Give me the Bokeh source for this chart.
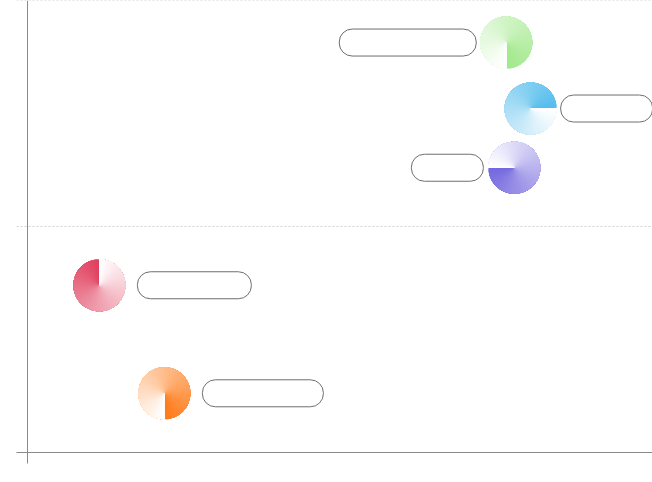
import numpy as np
from bokeh.plotting import figure
from bokeh.models import Range1d, FixedTicker, Span, ColumnDataSource, CustomJSTickFormatter
from bokeh.embed import file_html
from bokeh.resources import INLINE

# ---- data ----
names = ["green", "blue", "purple", "red", "orange"]
x_vals = [76.6, 80.5, 77.9, 11.5, 21.9]
y_vals = [90.7, 76.1, 63.0, 37.0, 13.1]
start_deg = [-90, 0, 180, 90, -90]
base_colors = ["#a2e98c", "#55bdec", "#7468de", "#e0405e", "#ff7a18"]

# ---- styles / layout ----
pie_radius_px = 26
pill_h_px = 27
pill_w_px = [137, 92, 72, 114, 121]
pill_off_px = [-98.5, 76, -67, 95, 98.5]

x_per_px = 100 / 625.0
y_per_px = 100 / 452.0
x_start = -11 * x_per_px

p = figure(width=652, height=470, output_backend="svg", toolbar_location=None,
           x_range=Range1d(x_start, 100), y_range=Range1d(0, 100),
           min_border_left=16, min_border_right=0, min_border_top=0,
           min_border_bottom=18)
p.outline_line_color = None
p.background_fill_color = "white"

# axes
p.yaxis.visible = False
p.xaxis.ticker = FixedTicker(ticks=[0])
p.xaxis.formatter = CustomJSTickFormatter(code="return ''")
p.xaxis.major_label_standoff = 0
p.xaxis.major_tick_out = 11
p.xaxis.major_tick_in = 0
p.xaxis.minor_tick_line_color = None
p.xaxis.axis_line_color = "#8a8a8a"
p.xaxis.major_tick_line_color = "#8a8a8a"
p.xgrid.visible = False
p.ygrid.ticker = FixedTicker(ticks=[50, 99.9])
p.ygrid.grid_line_color = "#d0d0d0"
p.ygrid.grid_line_dash = "2 2"
p.ygrid.grid_line_width = 1

p.add_layout(Span(location=0, dimension="height", line_color="#8a8a8a", line_width=1))


def blend(hexc, t):
    r, g, b = int(hexc[1:3], 16), int(hexc[3:5], 16), int(hexc[5:7], 16)
    r = round(r + (255 - r) * t)
    g = round(g + (255 - g) * t)
    b = round(b + (255 - b) * t)
    return "#%02x%02x%02x" % (r, g, b)


# conic-gradient pies: layered wedges, each one running to (almost) the end angle
N = 90
step = 360.0 / N
for xv, yv, a0, col in zip(x_vals, y_vals, start_deg, base_colors):
    starts, ends, cols = [], [], []
    for i in range(N):
        starts.append(np.deg2rad(a0 + i * step))
        ends.append(np.deg2rad(a0 + 359.9))
        cols.append(blend(col, i / (N - 1)))
    src = ColumnDataSource(dict(x=[xv] * N, y=[yv] * N, s=starts, e=ends, c=cols))
    p.wedge(x="x", y="y", radius=pie_radius_px, radius_units="screen",
            start_angle="s", end_angle="e", fill_color="c", line_color=None,
            source=src)

# pill labels
lefts, rights, tops, bottoms = [], [], [], []
for xv, yv, w, off in zip(x_vals, y_vals, pill_w_px, pill_off_px):
    cx = xv + off * x_per_px
    lefts.append(cx - w / 2 * x_per_px)
    rights.append(cx + w / 2 * x_per_px)
    tops.append(yv + pill_h_px / 2 * y_per_px)
    bottoms.append(yv - pill_h_px / 2 * y_per_px)
p.quad(left=lefts, right=rights, top=tops, bottom=bottoms,
       fill_color="white", line_color="#6e6e6e", line_width=1,
       border_radius=13)

open("out.html", "w").write(file_html(p, INLINE))
